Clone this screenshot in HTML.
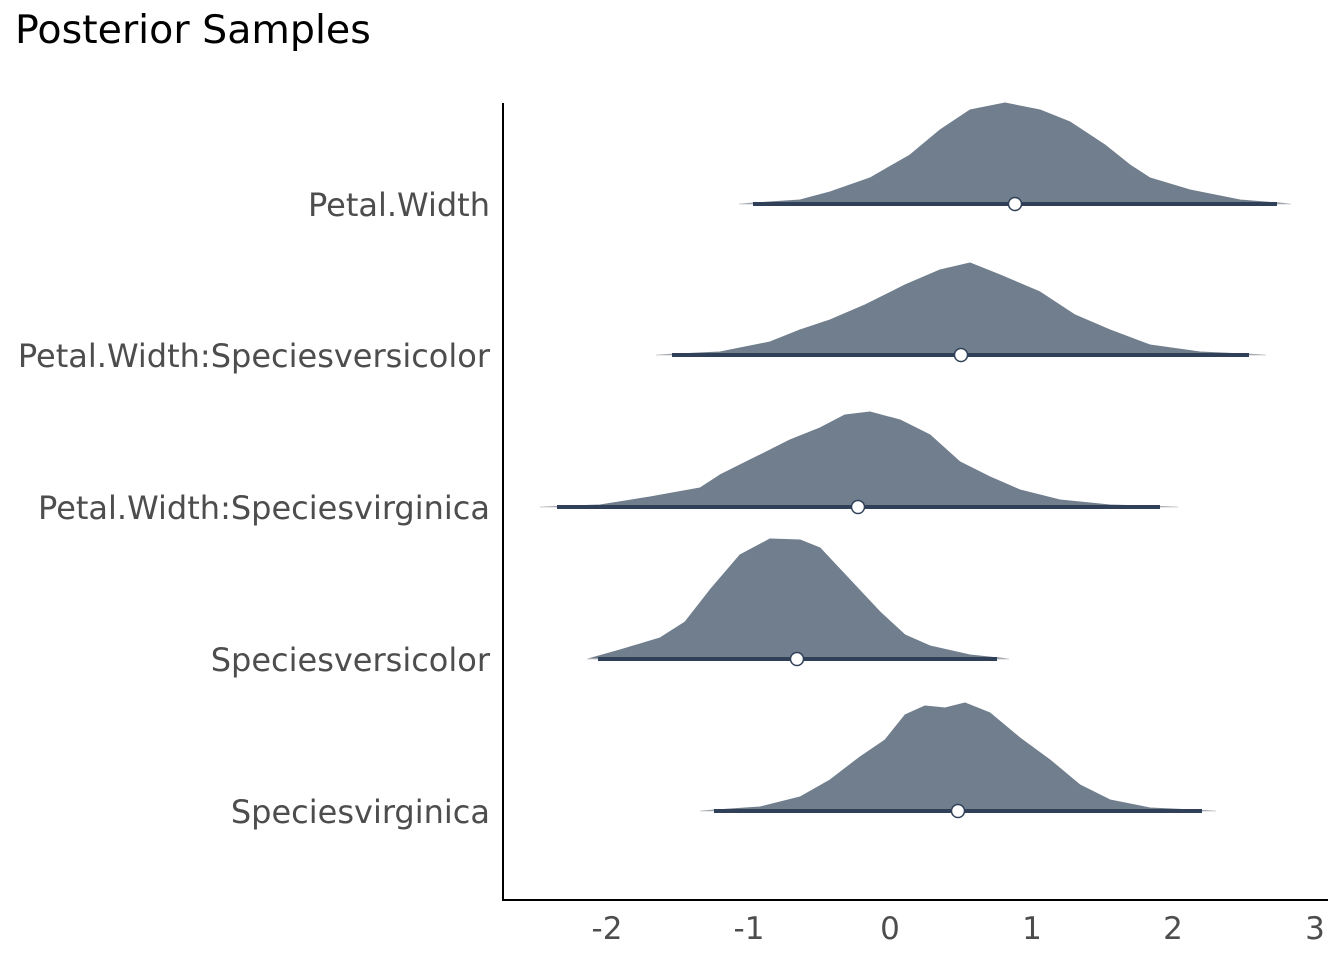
<!DOCTYPE html>
<html><head><style>body{margin:0;background:#fff}svg{display:block}</style></head><body>
<svg width="1344" height="960" xmlns="http://www.w3.org/2000/svg" font-family="'DejaVu Sans','Liberation Sans',sans-serif">
<rect width="1344" height="960" fill="#fff"/>
<text x="15" y="43" font-size="39.5" fill="#000">Posterior Samples</text>
<g fill="#707e8d" stroke="#707e8d" stroke-linejoin="round" stroke-width="1">
<polygon points="740,204 800,200 830,192 870,178 910,155 940,130 970,110 1005,103 1040,110 1070,122 1105,145 1130,165 1150,178 1190,190 1240,200 1290,204"/>
<polygon points="657,355 720,352 770,342 800,330 830,320 865,305 905,285 940,270 970,263 1000,275 1040,292 1075,315 1110,330 1150,345 1200,352 1265,355"/>
<polygon points="541,507 600,505 650,497 700,488 720,475 750,460 790,440 820,428 845,415 870,412 900,420 930,435 960,462 990,477 1020,490 1060,500 1110,505 1177,507"/>
<polygon points="588,659 620,650 660,638 685,622 710,590 740,555 770,539 800,540 820,548 850,580 880,612 905,635 930,646 970,655 1008,659"/>
<polygon points="701,811 760,807 800,797 830,780 860,757 885,740 905,715 925,706 945,708 965,703 990,713 1020,738 1050,760 1080,785 1110,800 1150,808 1215,811"/>
</g>
<g stroke="#d0d0d0" stroke-width="1">
<line x1="740" y1="204" x2="1290" y2="204"/><line x1="657" y1="355" x2="1265" y2="355"/>
<line x1="541" y1="507" x2="1177" y2="507"/><line x1="588" y1="659" x2="1008" y2="659"/>
<line x1="701" y1="811" x2="1215" y2="811"/>
</g>
<g stroke="#2f4058" stroke-width="4">
<line x1="753" y1="204" x2="1277" y2="204"/><line x1="672" y1="355" x2="1249" y2="355"/>
<line x1="557" y1="507" x2="1160" y2="507"/><line x1="598" y1="659" x2="997" y2="659"/>
<line x1="714" y1="811" x2="1202" y2="811"/>
</g>
<g fill="#fff" stroke="#2f4058" stroke-width="1.5">
<circle cx="1015" cy="204" r="6.5"/><circle cx="961" cy="355" r="6.5"/><circle cx="858" cy="507" r="6.5"/>
<circle cx="797" cy="659" r="6.5"/><circle cx="958" cy="811" r="6.5"/>
</g>
<g stroke="#000" stroke-width="2"><line x1="503" y1="103" x2="503" y2="901"/><line x1="502" y1="900" x2="1328" y2="900"/></g>
<g font-size="32" fill="#4d4d4d" text-anchor="end">
<text x="490" y="216">Petal.Width</text>
<text x="490" y="367">Petal.Width:Speciesversicolor</text>
<text x="490" y="519">Petal.Width:Speciesvirginica</text>
<text x="490" y="671">Speciesversicolor</text>
<text x="490" y="823">Speciesvirginica</text>
</g>
<g font-size="31" fill="#4d4d4d" text-anchor="middle">
<text x="607" y="939">-2</text><text x="749" y="939">-1</text><text x="890" y="939">0</text>
<text x="1032" y="939">1</text><text x="1173" y="939">2</text><text x="1315" y="939">3</text>
</g>
</svg>
</body></html>
